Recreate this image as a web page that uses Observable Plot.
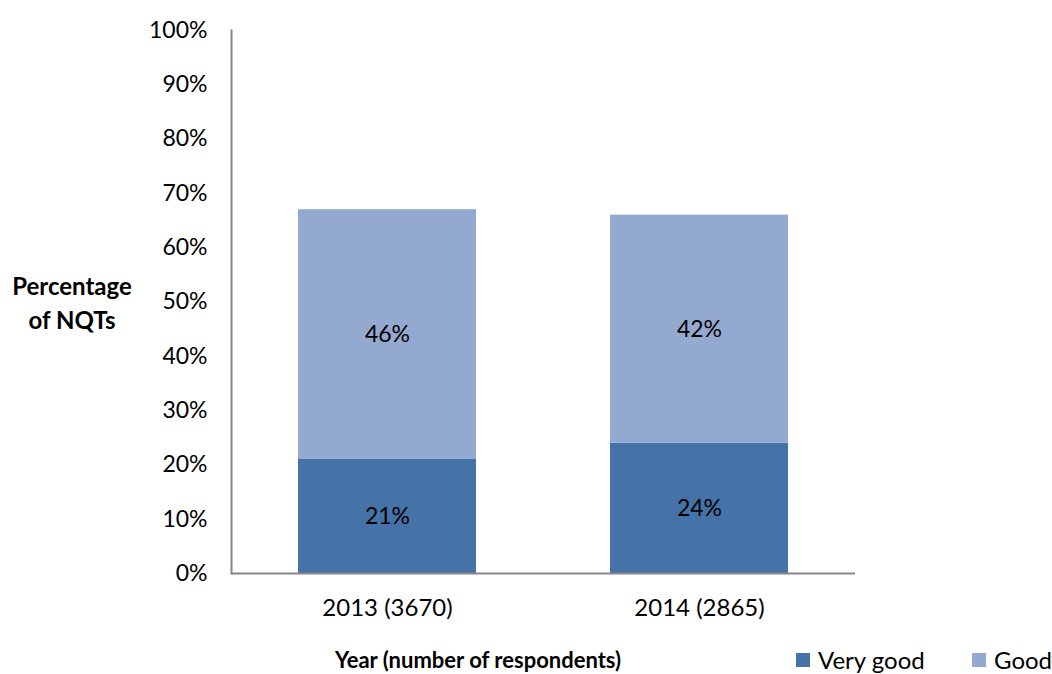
<!DOCTYPE html>
<html>
<head>
<meta charset="utf-8">
<script src="https://cdn.jsdelivr.net/npm/d3@7"></script>
<script src="https://cdn.jsdelivr.net/npm/@observablehq/plot@0.6"></script>
<style>
  html, body { margin: 0; padding: 0; background: #fff; }
  #wrap { position: relative; width: 1052px; height: 674px; font-family: Lato, "Open Sans", sans-serif; color: #000; }
  .abs { position: absolute; white-space: nowrap; }
  .ytitle { left: 72px; top: 269px; transform: translateX(-50%); font-weight: bold; font-size: 24px; line-height: 34px; text-align: center; }
  .xtitle { left: 478px; top: 646px; transform: translateX(-50%); font-weight: bold; font-size: 22px; }
  .leg { top: 645px; font-size: 24px; display: flex; align-items: center; }
  .sw { display: inline-block; width: 14px; height: 14px; margin-right: 8px; }
</style>
</head>
<body>
<div id="wrap"></div>
<script>
const years = ["2013 (3670)", "2014 (2865)"];
const series = ["Very good", "Good"];
const veryGood = [21, 24];
const good = [46, 42];
const colors = ["#4573A7", "#94A9D0"];
const yTicks = [0, 10, 20, 30, 40, 50, 60, 70, 80, 90, 100];

const data = [];
years.forEach((y, i) => {
  data.push({year: y, series: "Very good", value: veryGood[i]});
  data.push({year: y, series: "Good", value: good[i]});
});

const chart = Plot.plot({
  width: 1052,
  height: 674,
  marginLeft: 231,
  marginRight: 197,
  marginTop: 30,
  marginBottom: 101,
  style: {fontFamily: "Lato, 'Open Sans', sans-serif", fontSize: "23px", color: "#000", background: "#fff"},
  x: {domain: years, paddingInner: 0.43, paddingOuter: 0.215, label: null},
  y: {domain: [0, 100], label: null},
  color: {domain: series, range: colors},
  marks: [
    Plot.barY(data, Plot.stackY({x: "year", y: "value", fill: "series", order: series})),
    Plot.text(data, Plot.stackY({x: "year", y: "value", z: "series", order: series, text: d => d.value + "%", fill: "#000", fontSize: 23})),
    Plot.axisY({ticks: yTicks, tickFormat: d => d + "%", tickSize: 0, tickPadding: 24, fontSize: 23, label: null}),
    Plot.axisX({tickSize: 0, tickPadding: 25, fontSize: 24, label: null}),
    Plot.ruleY([0], {stroke: "#868686", strokeWidth: 2}),
    Plot.frame({anchor: "left", stroke: "#868686", strokeWidth: 2})
  ]
});

const wrap = document.getElementById("wrap");
wrap.appendChild(chart);

const yt = document.createElement("div");
yt.className = "abs ytitle";
yt.innerHTML = "Percentage<br>of NQTs";
wrap.appendChild(yt);

const xt = document.createElement("div");
xt.className = "abs xtitle";
xt.textContent = "Year (number of respondents)";
wrap.appendChild(xt);

const legLefts = [796, 972];
series.forEach((s, i) => {
  const l = document.createElement("div");
  l.className = "abs leg";
  l.style.left = legLefts[i] + "px";
  l.innerHTML = `<span class="sw" style="background:${colors[i]}"></span><span>${s}</span>`;
  wrap.appendChild(l);
});
</script>
</body>
</html>
